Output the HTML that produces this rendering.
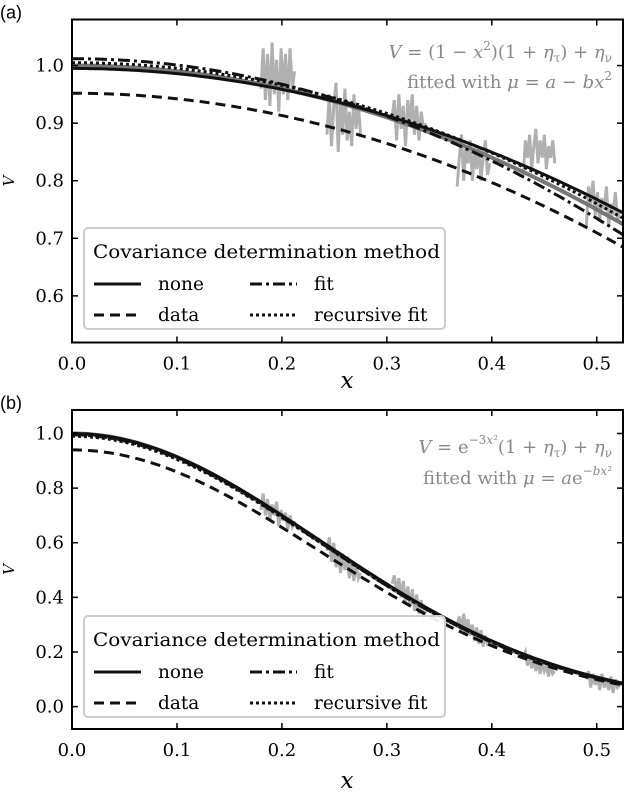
<!DOCTYPE html>
<html><head><meta charset="utf-8"><style>
html,body{margin:0;padding:0;background:#fff;}
svg{display:block;}
text{font-family:"DejaVu Serif","Liberation Serif",serif;}
</style></head><body>
<svg id="fig" width="624" height="795" xmlns="http://www.w3.org/2000/svg"></svg>
<script>
// ---- data ----
const xTicks=[0.0,0.1,0.2,0.3,0.4,0.5];
const xTickLabels=["0.0","0.1","0.2","0.3","0.4","0.5"];
const yTicksA=[0.6,0.7,0.8,0.9,1.0];
const yTickLabelsA=["0.6","0.7","0.8","0.9","1.0"];
const yTicksB=[0.0,0.2,0.4,0.6,0.8,1.0];
const yTickLabelsB=["0.0","0.2","0.4","0.6","0.8","1.0"];
// fitted parameters [a,b] per method: none, data, fit, recursive fit
const methods=["none","data","fit","recursive fit"];
const paramsA=[[0.995,0.91],[0.952,0.97],[1.012,1.11],[1.005,0.98]];
const paramsB=[[1.0,8.9],[0.94,9.0],[0.995,9.0],[0.99,8.95]];
// noisy measurement segments: start x, end x, values
const segStartsA=[0.18,0.243,0.305,0.367,0.43,0.49];
const segEndsA=[0.212,0.275,0.337,0.398,0.46,0.522];
const segValsA=[
 [0.96,1.03,0.94,1.02,0.93,1.04,0.95,1.01,0.92,1.03,0.95,1.02,0.94,1.03,0.96,0.99],
 [0.88,0.95,0.86,0.93,0.97,0.85,0.94,0.88,0.96,0.87,0.92,0.86,0.95,0.89,0.93,0.88],
 [0.91,0.94,0.87,0.95,0.89,0.93,0.86,0.94,0.9,0.95,0.88,0.93,0.87,0.92,0.89,0.9],
 [0.79,0.84,0.88,0.8,0.86,0.83,0.87,0.8,0.85,0.82,0.86,0.8,0.84,0.87,0.81,0.83],
 [0.81,0.87,0.84,0.88,0.82,0.86,0.89,0.83,0.87,0.84,0.88,0.82,0.86,0.84,0.87,0.83],
 [0.72,0.79,0.76,0.8,0.74,0.78,0.73,0.77,0.75,0.79,0.72,0.76,0.74,0.78,0.73,0.75]];
const segStartsB=segStartsA, segEndsB=segEndsA;
const segValsB=[
 [0.72,0.78,0.7,0.76,0.68,0.74,0.7,0.75,0.66,0.72,0.68,0.71,0.65,0.7,0.66,0.68],
 [0.57,0.62,0.53,0.6,0.51,0.57,0.49,0.56,0.5,0.55,0.47,0.53,0.46,0.52,0.47,0.49],
 [0.45,0.48,0.42,0.47,0.4,0.46,0.38,0.44,0.37,0.43,0.35,0.41,0.34,0.39,0.33,0.35],
 [0.3,0.33,0.28,0.34,0.27,0.32,0.26,0.3,0.24,0.29,0.23,0.28,0.22,0.26,0.23,0.24],
 [0.18,0.2,0.15,0.19,0.14,0.18,0.13,0.17,0.12,0.16,0.13,0.15,0.11,0.15,0.12,0.13],
 [0.1,0.13,0.07,0.12,0.08,0.11,0.06,0.12,0.07,0.1,0.06,0.11,0.05,0.1,0.07,0.08]];

const NS="http://www.w3.org/2000/svg";
const svg=document.getElementById('fig');
function mk(tag,attrs,parent){const e=document.createElementNS(NS,tag);for(const k in attrs)e.setAttribute(k,attrs[k]);(parent||svg).appendChild(e);return e;}

function panel(cfg){
  const g=mk('g',{});
  
  
  const L=72,R=623,T=cfg.top,B=cfg.bottom;
  const X=v=>L+(v-0)/(0.525)*(R-L);
  const Y=v=>B-(v-cfg.ymin)/(cfg.ymax-cfg.ymin)*(B-T);
  const clip=mk('clipPath',{id:'c'+cfg.id},g);mk('rect',{x:L,y:T,width:R-L,height:B-T},clip);
  const pg=mk('g',{'clip-path':'url(#c'+cfg.id+')'},g);
  for(let s=0;s<cfg.segS.length;s++){
    const vals=cfg.segV[s];let d='';
    for(let i=0;i<vals.length;i++){
      const x=cfg.segS[s]+(cfg.segE[s]-cfg.segS[s])*i/(vals.length-1);
      d+=(i?'L':'M')+X(x).toFixed(1)+','+Y(vals[i]).toFixed(1);
    }
    const p=mk('path',{d:d,fill:'none',stroke:'#b0b0b0','stroke-width':3,'stroke-linejoin':'miter'},pg);
    
    
  }
  function curve(f){let d='';for(let i=0;i<=120;i++){const x=0.53*i/120;d+=(i?'L':'M')+X(x).toFixed(1)+','+Y(f(x)).toFixed(1);}return d;}
  const t=mk('path',{d:curve(cfg.truth),fill:'none',stroke:'#777','stroke-width':4},pg);
  
  
  const dashes=['none','10,6','12,4,3,4','3,3'];
  cfg.params.forEach((p,i)=>{
    const c=mk('path',{d:curve(x=>cfg.model(p[0],p[1],x)),fill:'none',stroke:'#111','stroke-width':3,'stroke-dasharray':dashes[i]},pg);
    
    
  });
  const box=mk('rect',{x:L,y:T,width:R-L,height:B-T,fill:'none',stroke:'#000','stroke-width':2},g);
  
  
  xTicks.forEach((v,i)=>{
    mk('line',{x1:X(v),x2:X(v),y1:B,y2:B-6,stroke:'#000','stroke-width':1.5},g);
    mk('line',{x1:X(v),x2:X(v),y1:T,y2:T+6,stroke:'#000','stroke-width':1.5},g);
    const tx=mk('text',{x:X(v),y:B+27,'text-anchor':'middle','font-size':18},g);tx.textContent=xTickLabels[i];
    
    
  });
  cfg.yt.forEach((v,i)=>{
    mk('line',{x1:L,x2:L+6,y1:Y(v),y2:Y(v),stroke:'#000','stroke-width':1.5},g);
    mk('line',{x1:R,x2:R-6,y1:Y(v),y2:Y(v),stroke:'#000','stroke-width':1.5},g);
    const tx=mk('text',{x:L-8,y:Y(v)+6,'text-anchor':'end','font-size':18},g);tx.textContent=cfg.ytl[i];
    
    
  });
  const xl=mk('text',{x:347,y:cfg.xlabY,'text-anchor':'middle','font-size':23,'font-style':'italic'},g);xl.textContent='x';
  
  
  const yl=mk('text',{x:14,y:(T+B)/2,'text-anchor':'middle','font-size':15,'font-style':'italic',transform:'rotate(-90 14 '+((T+B)/2)+')'},g);yl.textContent='V';
  
  
  const pl=mk('text',{x:0,y:cfg.top-1,'font-size':18,style:'font-family:"Liberation Sans",sans-serif'},g);pl.textContent=cfg.label;
  
  
  cfg.ann.forEach((s,i)=>{
    const a=mk('text',{x:612,y:cfg.annY[i],'text-anchor':'end','font-size':18,fill:'#888'},g);a.innerHTML=s;
    
    
  });
  const lg=mk('g',{},g);
  
  
  const ly=cfg.legTop;
  mk('rect',{x:84,y:ly,width:361,height:101,rx:4,fill:'rgba(255,255,255,0.92)',stroke:'#ccc','stroke-width':2},lg);
  const lt=mk('text',{x:93,y:ly+30,'font-size':18.5,textLength:347,lengthAdjust:'spacingAndGlyphs'},lg);lt.textContent='Covariance determination method';
  
  
  const pos=[[94,ly+62],[94,ly+93],[250,ly+62],[250,ly+93]];
  [0,1,2,3].forEach(i=>{
    const [px,py]=pos[i];
    mk('line',{x1:px,x2:px+47,y1:py-6,y2:py-6,stroke:'#111','stroke-width':3,'stroke-dasharray':dashes[i]},lg);
    const e=mk('text',{x:px+64,y:py,'font-size':18.5},lg);e.textContent=methods[i];
    
    
  });
}
panel({id:'a',name:'panel-a',label:'(a)',top:19.5,bottom:342.5,ymin:0.519,ymax:1.08,yt:yTicksA,ytl:yTickLabelsA,
 segS:segStartsA,segE:segEndsA,segV:segValsA,truth:x=>1-x*x,model:(a,b,x)=>a-b*x*x,params:paramsA,
 xlabY:388,legTop:228,ann:['<tspan font-style="italic">V</tspan> = (1 − <tspan font-style="italic">x</tspan><tspan font-size="12" dy="-8">2</tspan><tspan dy="8">)(1 + </tspan><tspan font-style="italic">η</tspan><tspan font-size="12" dy="4">τ</tspan><tspan dy="-4">) + </tspan><tspan font-style="italic">η</tspan><tspan font-size="12" dy="4">ν</tspan>','fitted with <tspan font-style="italic">μ</tspan> = <tspan font-style="italic">a</tspan> − <tspan font-style="italic">bx</tspan><tspan font-size="12" dy="-8">2</tspan>'],annY:[58,88]});
panel({id:'b',name:'panel-b',label:'(b)',top:410,bottom:729,ymin:-0.082,ymax:1.086,yt:yTicksB,ytl:yTickLabelsB,
 segS:segStartsB,segE:segEndsB,segV:segValsB,truth:x=>Math.exp(-9*x*x),model:(a,b,x)=>a*Math.exp(-b*x*x),params:paramsB,
 xlabY:788,legTop:616,ann:['<tspan font-style="italic">V</tspan> = e<tspan font-size="12" dy="-9">−3<tspan font-style="italic">x</tspan>²</tspan><tspan dy="9">(1 + </tspan><tspan font-style="italic">η</tspan><tspan font-size="12" dy="4">τ</tspan><tspan dy="-4">) + </tspan><tspan font-style="italic">η</tspan><tspan font-size="12" dy="4">ν</tspan>','fitted with <tspan font-style="italic">μ</tspan> = <tspan font-style="italic">a</tspan>e<tspan font-size="12" dy="-9">−<tspan font-style="italic">bx</tspan>²</tspan>'],annY:[453,484]});
</script>
</body></html>
